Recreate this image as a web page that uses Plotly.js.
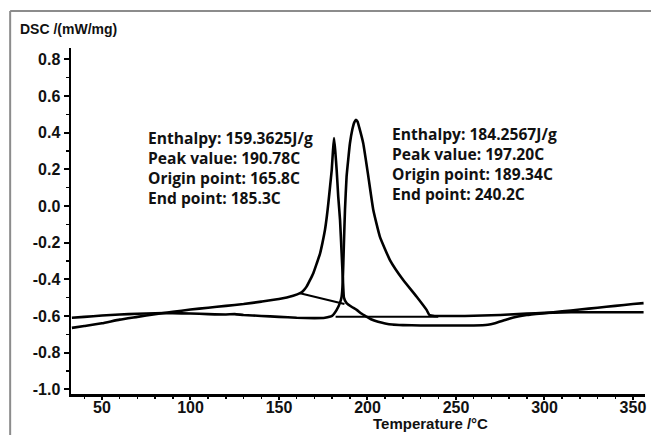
<!DOCTYPE html>
<html>
<head>
<meta charset="utf-8">
<script src="https://cdn.plot.ly/plotly-3.0.1.min.js"></script>
<style>html,body{margin:0;padding:0;background:#fff;}#chart{width:651px;height:435px;}</style>
</head>
<body>
<div id="chart"></div>
<script>
// Sample A (first melting peak)
var tempA = [33, 40, 50, 60, 70, 80, 90, 100, 110, 120, 130, 140, 150, 158, 161.9, 163.5, 165.6, 167.5, 169.4, 171.3, 173.2, 174.6, 176, 177, 177.9, 178.9, 179.8, 180.5, 181.1, 181.8, 182.6, 183.5, 184.5, 185.4, 186.3, 186.7, 188.2, 191, 193.9, 196.5, 199.5, 202, 206, 210, 214, 220, 230, 240, 250, 260, 268, 272, 276, 280, 285, 290, 300, 310, 320, 330, 340, 350, 356];
var dscA = [-0.665, -0.655, -0.64, -0.62, -0.605, -0.59, -0.578, -0.565, -0.555, -0.545, -0.535, -0.522, -0.508, -0.49, -0.476, -0.465, -0.44, -0.405, -0.367, -0.315, -0.26, -0.2, -0.13, -0.06, 0.015, 0.11, 0.196, 0.3, 0.37, 0.3, 0.196, 0.05, -0.076, -0.258, -0.44, -0.5, -0.53, -0.55, -0.567, -0.587, -0.604, -0.618, -0.632, -0.641, -0.647, -0.65, -0.652, -0.652, -0.652, -0.652, -0.648, -0.64, -0.628, -0.615, -0.603, -0.595, -0.585, -0.575, -0.565, -0.555, -0.545, -0.535, -0.53];

// Sample B (second melting peak)
var tempB = [33, 40, 50, 60, 70, 80, 90, 100, 110, 120, 125, 130, 140, 150, 160, 170, 176, 180, 182.6, 184.4, 185.4, 186, 186.7, 187.3, 188.2, 189.2, 190.1, 191.5, 192.5, 193.5, 194.4, 195.3, 197.6, 200.5, 203.3, 207, 212.7, 220.2, 227.8, 233.4, 235, 238, 245, 255, 265, 275, 285, 295, 305, 315, 325, 335, 345, 356];
var dscB = [-0.61, -0.605, -0.598, -0.592, -0.588, -0.585, -0.585, -0.587, -0.59, -0.592, -0.59, -0.595, -0.6, -0.605, -0.61, -0.612, -0.61, -0.6, -0.567, -0.53, -0.495, -0.42, -0.2, -0.02, 0.16, 0.26, 0.342, 0.42, 0.455, 0.47, 0.46, 0.43, 0.342, 0.16, -0.022, -0.167, -0.295, -0.404, -0.495, -0.567, -0.595, -0.6, -0.6, -0.6, -0.598, -0.595, -0.59, -0.585, -0.582, -0.58, -0.58, -0.58, -0.58, -0.58];

// Integration baselines
var baseTempA = [161.9, 187];
var baseDscA = [-0.476, -0.535];
var baseTempB = [182, 240];
var baseDscB = [-0.605, -0.605];

// Axis ticks
var xTickVals = [50, 100, 150, 200, 250, 300, 350];
var xTickText = ["50", "100", "150", "200", "250", "300", "350"];
var yTickVals = [-1.0, -0.8, -0.6, -0.4, -0.2, 0.0, 0.2, 0.4, 0.6, 0.8];
var yTickText = ["-1.0", "-0.8", "-0.6", "-0.4", "-0.2", "0.0", "0.2", "0.4", "0.6", "0.8"];

// Peak annotation texts
var labelsA = ["Enthalpy: 159.3625J/g", "Peak value: 190.78C", "Origin point: 165.8C", "End point: 185.3C"];
var labelsB = ["Enthalpy: 184.2567J/g", "Peak value: 197.20C", "Origin point: 189.34C", "End point: 240.2C"];
var labelAnchorA = {x: 75, y: [0.371, 0.262, 0.153, 0.044]};
var labelAnchorB = {x: 212.5, y: [0.393, 0.284, 0.175, 0.065]};

var lineStyle = {color: '#000', width: 2.6, shape: 'spline', smoothing: 0.4};
var baseStyle = {color: '#000', width: 2};

var traces = [
  {x: tempA, y: dscA, mode: 'lines', line: lineStyle, name: 'A', hoverinfo: 'skip'},
  {x: tempB, y: dscB, mode: 'lines', line: lineStyle, name: 'B', hoverinfo: 'skip'},
  {x: baseTempA, y: baseDscA, mode: 'lines', line: baseStyle, name: 'baseline A', hoverinfo: 'skip'},
  {x: baseTempB, y: baseDscB, mode: 'lines', line: baseStyle, name: 'baseline B', hoverinfo: 'skip'}
];

var annFont = {family: '"Open Sans", "Noto Sans", sans-serif', size: 15.6, color: '#111', weight: 700};
var annotations = [];
labelsA.forEach(function (t, i) {
  annotations.push({x: labelAnchorA.x, y: labelAnchorA.y[i], xref: 'x', yref: 'y', text: '<b>' + t + '</b>', showarrow: false, xanchor: 'left', yanchor: 'middle', font: annFont});
});
labelsB.forEach(function (t, i) {
  annotations.push({x: labelAnchorB.x, y: labelAnchorB.y[i], xref: 'x', yref: 'y', text: '<b>' + t + '</b>', showarrow: false, xanchor: 'left', yanchor: 'middle', font: annFont});
});
// axis titles placed like the original
annotations.push({x: -0.092, y: 1.055, xref: 'paper', yref: 'paper', text: '<b>DSC /(mW/mg)</b>', showarrow: false, xanchor: 'left', yanchor: 'middle', font: {family: '"Liberation Sans", Arial, sans-serif', size: 14, color: '#111', weight: 700}});
annotations.push({x: 0.627, y: -0.086, xref: 'paper', yref: 'paper', text: '<b>Temperature /°C</b>', showarrow: false, xanchor: 'center', yanchor: 'middle', font: {family: '"Liberation Sans", Arial, sans-serif', size: 15, color: '#111', weight: 700}});

var tickFont = {family: '"Liberation Sans", Arial, sans-serif', size: 16, color: '#111', weight: 700};
function bold(arr) { return arr.map(function (s) { return '<b>' + s + '</b>'; }); }

var layout = {
  width: 651, height: 435,
  margin: {l: 71, r: 6, t: 48, b: 41, pad: 0},
  paper_bgcolor: '#fff', plot_bgcolor: '#fff',
  showlegend: false,
  xaxis: {
    range: [32.5, 356.8], showgrid: false, zeroline: false,
    showline: true, linecolor: '#000', linewidth: 2.5,
    tickmode: 'array', tickvals: xTickVals, ticktext: bold(xTickText),
    ticks: 'outside', ticklen: 3, tickwidth: 2, tickcolor: '#000',
    ticklabelstandoff: -6,
    minor: {tickmode: 'linear', tick0: 0, dtick: 10, ticks: 'outside', ticklen: 2, tickwidth: 1.5, tickcolor: '#000', showgrid: false},
    tickfont: tickFont
  },
  yaxis: {
    range: [-1.026, 0.862], showgrid: false, zeroline: false,
    showline: true, linecolor: '#000', linewidth: 2.5,
    tickmode: 'array', tickvals: yTickVals, ticktext: bold(yTickText),
    ticks: 'outside', ticklen: 5, tickwidth: 2, tickcolor: '#000',
    minor: {tickmode: 'linear', tick0: 0, dtick: 0.1, ticks: 'outside', ticklen: 3, tickwidth: 1.5, tickcolor: '#000', showgrid: false},
    tickfont: tickFont
  },
  annotations: annotations,
  shapes: [
    {type: 'line', xref: 'paper', yref: 'paper', x0: -0.106, x1: 1.02, y0: 1.107, y1: 1.107, line: {color: '#8c8c8c', width: 2}},
    {type: 'line', xref: 'paper', yref: 'paper', x0: -0.106, x1: -0.106, y0: 1.107, y1: -0.13, line: {color: '#8c8c8c', width: 2}}
  ]
};

Plotly.newPlot('chart', traces, layout, {staticPlot: true, displayModeBar: false});
</script>
</body>
</html>
